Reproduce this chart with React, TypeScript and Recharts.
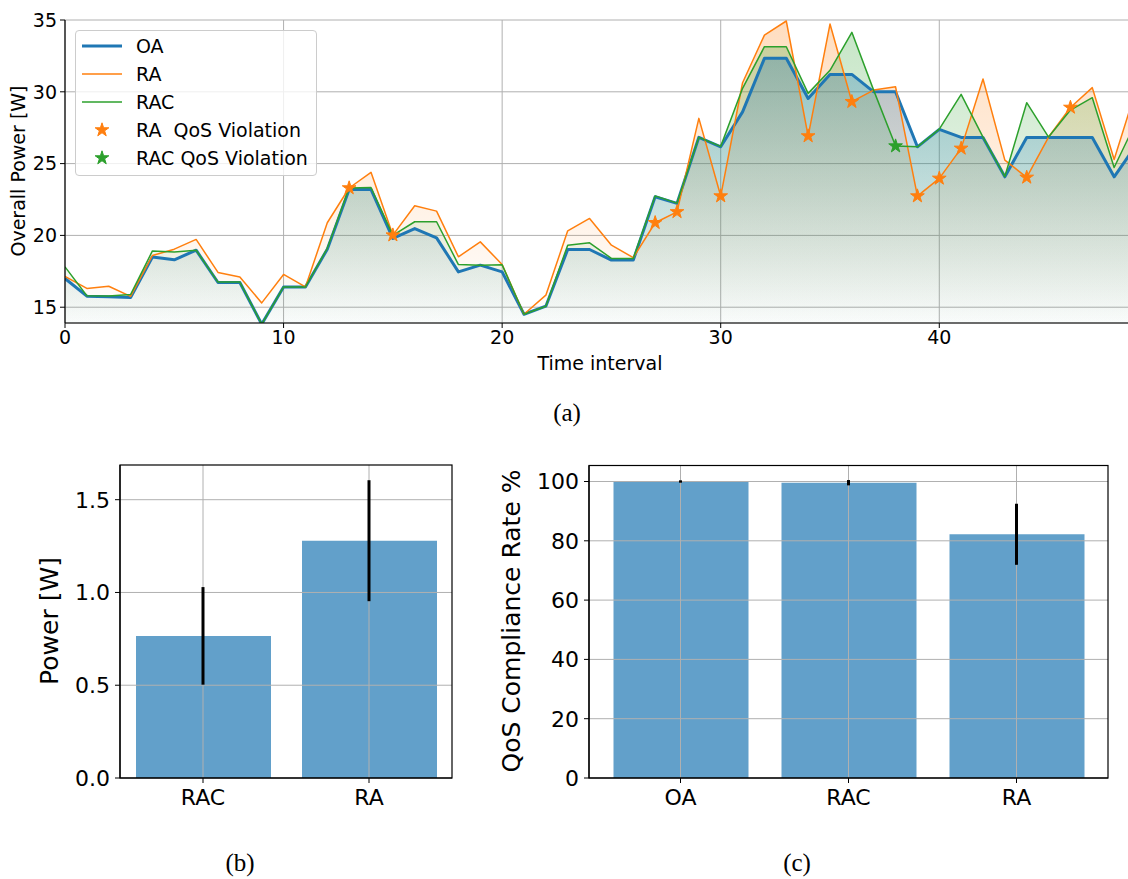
import React from 'react';
import {
  ComposedChart,
  Area,
  Line,
  Scatter,
  Bar,
  ErrorBar,
  XAxis,
  YAxis,
  CartesianGrid,
  ReferenceLine,
} from 'recharts';

// ---------------- data: panel (a) ----------------
const timeSteps = [
  0, 1, 2, 3, 4, 5, 6, 7, 8, 9, 10, 11, 12, 13, 14, 15, 16, 17, 18, 19, 20, 21, 22, 23, 24,
  25, 26, 27, 28, 29, 30, 31, 32, 33, 34, 35, 36, 37, 38, 39, 40, 41, 42, 43, 44, 45, 46, 47, 48, 49,
];
const oaPower = [
  17.0, 15.77, 15.73, 15.68, 18.5, 18.3, 18.97, 16.72, 16.72, 13.82, 16.41, 16.41, 19.04, 23.2, 23.2,
  19.79, 20.48, 19.83, 17.46, 17.93, 17.46, 14.51, 15.07, 19.02, 19.02, 18.28, 18.28, 22.69, 22.23,
  26.83, 26.17, 28.6, 32.33, 32.33, 29.54, 31.21, 31.21, 30.0, 30.0, 26.17, 27.38, 26.82, 26.82, 24.08,
  26.82, 26.82, 26.82, 26.82, 24.08, 26.28,
];
const raPower = [
  17.15, 16.31, 16.46, 15.75, 18.6, 19.04, 19.72, 17.42, 17.11, 15.3, 17.28, 16.41, 20.88, 23.3, 24.39,
  20.02, 22.06, 21.69, 18.51, 19.55, 17.97, 14.51, 15.84, 20.32, 21.18, 19.32, 18.45, 20.88, 21.64,
  28.15, 22.74, 30.63, 33.95, 34.93, 26.92, 34.72, 29.31, 30.12, 30.35, 22.74, 23.97, 26.06, 30.89,
  25.24, 24.04, 26.85, 28.91, 30.29, 25.29, 30.15,
];
const racPower = [
  17.81, 15.8, 15.78, 15.88, 18.92, 18.85, 18.97, 16.75, 16.75, 13.82, 16.41, 16.41, 19.1, 23.3, 23.34,
  20.0, 20.95, 20.95, 17.97, 17.93, 17.95, 14.51, 15.07, 19.32, 19.48, 18.4, 18.4, 22.75, 22.25, 26.83,
  26.2, 30.24, 33.14, 33.14, 29.89, 31.5, 34.14, 30.1, 26.22, 26.17, 27.4, 29.82, 26.85, 24.1, 29.24,
  26.85, 28.73, 29.59, 24.73, 27.9,
];
const raViolationSteps = [13, 15, 27, 28, 30, 34, 36, 39, 40, 41, 44, 46];
const racViolationSteps = [38];
const timeTicks = [0, 10, 20, 30, 40];
const overallPowerTicks = [15, 20, 25, 30, 35];

// ---------------- data: panel (b) ----------------
const powerCategories = ['RAC', 'RA'];
const powerMean = [0.766, 1.279];
const powerStd = [0.263, 0.326];
const powerTicks = [0, 0.5, 1.0, 1.5];

// ---------------- data: panel (c) ----------------
const qosCategories = ['OA', 'RAC', 'RA'];
const qosMean = [100, 99.6, 82.2];
const qosStd = [0.4, 0.9, 10.3];
const qosTicks = [0, 20, 40, 60, 80, 100];

// ---------------- styles ----------------
const FONT = "'DejaVu Sans', sans-serif";
const BLUE = '#1f77b4';
const ORANGE = '#ff7f0e';
const GREEN = '#2ca02c';
const GRID = '#b0b0b0';
const FILL_ALPHA = 0.55;

const rowsA = timeSteps.map((t, i) => ({ t, OA: oaPower[i], RA: raPower[i], RAC: racPower[i] }));
const raStars = raViolationSteps.map((t) => ({ t, v: raPower[timeSteps.indexOf(t)] }));
const racStars = racViolationSteps.map((t) => ({ t, v: racPower[timeSteps.indexOf(t)] }));
const rowsB = powerCategories.map((c, i) => ({ c, m: powerMean[i], e: powerStd[i] }));
const rowsC = qosCategories.map((c, i) => ({ c, m: qosMean[i], e: qosStd[i] }));

function starPoints(cx: number, cy: number, R: number) {
  const r = R * 0.382;
  const pts: string[] = [];
  for (let k = 0; k < 10; k++) {
    const ang = -Math.PI / 2 + (k * Math.PI) / 5;
    const rad = k % 2 === 0 ? R : r;
    pts.push(`${cx + rad * Math.cos(ang)},${cy + rad * Math.sin(ang)}`);
  }
  return pts.join(' ');
}

const makeStar = (color: string) => (p: any) => {
  if (p == null || p.cx == null || p.cy == null) return <g />;
  return <polygon points={starPoints(p.cx, p.cy, 7.2)} fill={color} stroke={color} strokeWidth={1} strokeLinejoin="miter" />;
};

const tickStyleA = { fontSize: 19, fill: '#000', fontFamily: FONT };
const tickStyleB = { fontSize: 22, fill: '#000', fontFamily: FONT };

function PanelA() {
  return (
    <ComposedChart width={1136} height={353} data={rowsA} margin={{ top: 20, right: 0, left: 0, bottom: 0 }}>
      <defs>
        <linearGradient id="gOA" x1="0" y1="0" x2="0" y2="1">
          <stop offset="0" stopColor={BLUE} stopOpacity={FILL_ALPHA} />
          <stop offset="1" stopColor={BLUE} stopOpacity={0.02} />
        </linearGradient>
        <linearGradient id="gRA" x1="0" y1="0" x2="0" y2="1">
          <stop offset="0" stopColor={ORANGE} stopOpacity={FILL_ALPHA * 0.8} />
          <stop offset="1" stopColor={ORANGE} stopOpacity={0} />
        </linearGradient>
        <linearGradient id="gRAC" x1="0" y1="0" x2="0" y2="1">
          <stop offset="0" stopColor={GREEN} stopOpacity={FILL_ALPHA * 0.8} />
          <stop offset="1" stopColor={GREEN} stopOpacity={0.02} />
        </linearGradient>
      </defs>
      <CartesianGrid stroke={GRID} strokeWidth={1} />
      <XAxis
        dataKey="t"
        type="number"
        domain={[0, 49]}
        ticks={timeTicks}
        allowDataOverflow
        height={30}
        tickSize={5}
        tickMargin={3}
        tick={tickStyleA}
        axisLine={{ stroke: '#000', strokeWidth: 1.2 }}
        tickLine={{ stroke: '#000', strokeWidth: 1 }}
      />
      <XAxis
        xAxisId="top"
        orientation="top"
        dataKey="t"
        type="number"
        domain={[0, 49]}
        allowDataOverflow
        height={0}
        tick={false}
        tickLine={false}
        axisLine={{ stroke: '#000', strokeWidth: 1.2 }}
      />
      <YAxis
        type="number"
        domain={[13.9, 35]}
        allowDataOverflow
        ticks={overallPowerTicks}
        width={65}
        tickSize={5}
        tickMargin={3}
        tick={tickStyleA}
        axisLine={{ stroke: '#000', strokeWidth: 1.2 }}
        tickLine={{ stroke: '#000', strokeWidth: 1 }}
      />
      <Area type="linear" dataKey="RA" stroke="none" fill="url(#gRA)" baseValue="dataMin" dot={false} activeDot={false} isAnimationActive={false} />
      <Area type="linear" dataKey="RAC" stroke="none" fill="url(#gRAC)" baseValue="dataMin" dot={false} activeDot={false} isAnimationActive={false} />
      <Area type="linear" dataKey="OA" stroke="none" fill="url(#gOA)" baseValue="dataMin" dot={false} activeDot={false} isAnimationActive={false} />
      <Line type="linear" dataKey="OA" stroke={BLUE} strokeWidth={3} strokeLinejoin="round" dot={false} activeDot={false} isAnimationActive={false} />
      <Line type="linear" dataKey="RA" stroke={ORANGE} strokeWidth={1.5} strokeLinejoin="round" dot={false} activeDot={false} isAnimationActive={false} />
      <Line type="linear" dataKey="RAC" stroke={GREEN} strokeWidth={1.5} strokeLinejoin="round" dot={false} activeDot={false} isAnimationActive={false} />
      <Scatter data={raStars} dataKey="v" shape={makeStar(ORANGE)} isAnimationActive={false} />
      <Scatter data={racStars} dataKey="v" shape={makeStar(GREEN)} isAnimationActive={false} />
    </ComposedChart>
  );
}

function BarPanel({
  rows,
  cats,
  width,
  yAxisWidth,
  marginTop,
  marginRight,
  domainMax,
  ticks,
  fmt,
  padding,
}: {
  rows: { c: string; m: number; e: number }[];
  cats: string[];
  width: number;
  yAxisWidth: number;
  marginTop: number;
  marginRight: number;
  domainMax: number;
  ticks: number[];
  fmt: (v: number) => string;
  padding: number;
}) {
  return (
    <ComposedChart width={width} height={380} data={rows} margin={{ top: marginTop, right: marginRight, left: 0, bottom: 0 }}>
      <XAxis
        dataKey="c"
        type="category"
        height={42}
        padding={{ left: padding, right: padding }}
        tickSize={5}
        tickMargin={6}
        tick={tickStyleB}
        axisLine={{ stroke: '#000', strokeWidth: 1.2 }}
        tickLine={{ stroke: '#000', strokeWidth: 1 }}
      />
      <YAxis
        type="number"
        domain={[0, domainMax]}
        allowDataOverflow
        ticks={ticks}
        tickFormatter={fmt}
        width={yAxisWidth}
        tickSize={5}
        tickMargin={5}
        tick={tickStyleB}
        axisLine={{ stroke: '#000', strokeWidth: 1.2 }}
        tickLine={{ stroke: '#000', strokeWidth: 1 }}
      />
      <Bar dataKey="m" fill={BLUE} fillOpacity={0.7} barSize={135} isAnimationActive={false} />
      {ticks.slice(1).map((v) => (
        <ReferenceLine key={`y${v}`} y={v} stroke={GRID} strokeWidth={1} />
      ))}
      {cats.map((c) => (
        <ReferenceLine key={`x${c}`} x={c} stroke={GRID} strokeWidth={1} />
      ))}
      <Scatter dataKey="m" shape={() => <g />} isAnimationActive={false}>
        <ErrorBar dataKey="e" direction="y" width={0} stroke="#000" strokeWidth={3} />
      </Scatter>
    </ComposedChart>
  );
}

function LegendA() {
  const items = [
    { label: 'OA', kind: 'line', color: BLUE, w: 3 },
    { label: 'RA', kind: 'line', color: ORANGE, w: 1.5 },
    { label: 'RAC', kind: 'line', color: GREEN, w: 1.5 },
    { label: 'RA\u00a0\u00a0QoS Violation', kind: 'star', color: ORANGE, w: 0 },
    { label: 'RAC QoS Violation', kind: 'star', color: GREEN, w: 0 },
  ];
  return (
    <div
      style={{
        position: 'absolute',
        left: 75,
        top: 30,
        width: 242,
        height: 146,
        boxSizing: 'border-box',
        border: '1px solid #cccccc',
        borderRadius: 4,
        background: 'rgba(255,255,255,0.8)',
        paddingTop: 1,
        fontFamily: FONT,
        fontSize: 19,
        color: '#000',
      }}
    >
      {items.map((it) => (
        <div key={it.label} style={{ display: 'flex', alignItems: 'center', height: 28, lineHeight: '28px', whiteSpace: 'nowrap' }}>
          <svg width={60} height={28} style={{ flex: 'none' }}>
            {it.kind === 'line' ? (
              <line x1={6} x2={46} y1={14} y2={14} stroke={it.color} strokeWidth={it.w} />
            ) : (
              <polygon points={starPoints(26, 14, 7.2)} fill={it.color} stroke={it.color} strokeWidth={1} />
            )}
          </svg>
          <span>{it.label}</span>
        </div>
      ))}
    </div>
  );
}

function Labels() {
  return (
    <svg width={1128} height={879} style={{ position: 'absolute', left: 0, top: 0, pointerEvents: 'none' }}>
      {/* axes frames of panels (b) and (c) */}
      <rect x={120} y={465} width={332} height={313} fill="none" stroke="#000" strokeWidth={1.2} />
      <rect x={589} y={465.5} width={519} height={312.5} fill="none" stroke="#000" strokeWidth={1.2} />
      <g fontFamily={FONT} fill="#000">
        <text x={600} y={370} fontSize={19} textAnchor="middle">Time interval</text>
        <text transform="translate(25,171) rotate(-90)" fontSize={19} textAnchor="middle">Overall Power [W]</text>
        <text transform="translate(58,621) rotate(-90)" fontSize={25} textAnchor="middle">Power [W]</text>
        <text transform="translate(520,621) rotate(-90)" fontSize={25} textAnchor="middle">QoS Compliance Rate %</text>
      </g>
      <g fontFamily="'Liberation Serif', 'DejaVu Serif', serif" fill="#000" fontSize={25}>
        <text x={567} y={421} textAnchor="middle">(a)</text>
        <text x={240} y={871} textAnchor="middle">(b)</text>
        <text x={797} y={871} textAnchor="middle">(c)</text>
      </g>
    </svg>
  );
}

export default function App() {
  return (
    <div
      style={{
        position: 'absolute',
        left: 0,
        top: 0,
        width: 1128,
        height: 879,
        overflow: 'hidden',
        background: '#fff',
        fontFamily: FONT,
      }}
    >
      <div style={{ position: 'absolute', left: 0, top: 0, width: 1128, height: 360, overflow: 'hidden' }}>
        <PanelA />
      </div>
      <LegendA />
      <div style={{ position: 'absolute', left: 0, top: 440 }}>
        <BarPanel
          rows={rowsB}
          cats={powerCategories}
          width={470}
          yAxisWidth={120}
          marginTop={25}
          marginRight={18}
          domainMax={1.687}
          ticks={powerTicks}
          fmt={(v) => v.toFixed(1)}
          padding={0}
        />
      </div>
      <div style={{ position: 'absolute', left: 480, top: 440 }}>
        <BarPanel
          rows={rowsC}
          cats={qosCategories}
          width={648}
          yAxisWidth={109}
          marginTop={25.5}
          marginRight={20}
          domainMax={105.4}
          ticks={qosTicks}
          fmt={(v) => String(v)}
          padding={7.5}
        />
      </div>
      <Labels />
    </div>
  );
}
